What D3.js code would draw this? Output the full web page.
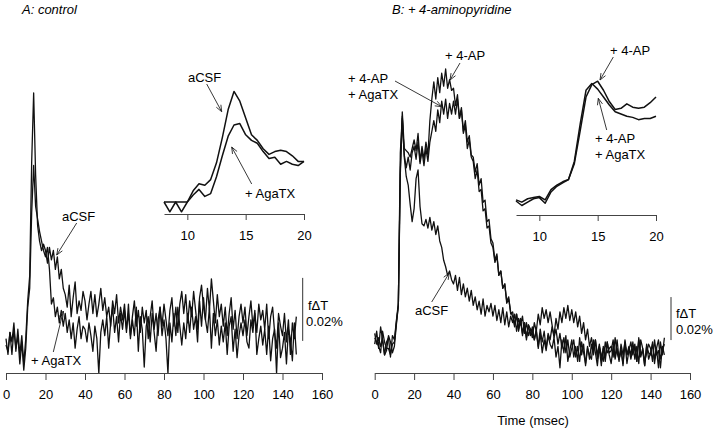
<!DOCTYPE html>
<html><head><meta charset="utf-8">
<script src="https://cdn.jsdelivr.net/npm/d3@7"></script>
<style>
body{margin:0;background:#fff}
svg text{font-family:"Liberation Sans",Arial,sans-serif;fill:#000}
</style>
</head><body>
<svg id="c" width="720" height="432"></svg>
<script>
// ---------- data ----------
const mainDt = 1;               // main traces: one sample per msec from 0 ms
const insetDt = 0.5;            // insets: one sample per 0.5 msec
const xTicks = [0,20,40,60,80,100,120,140,160];
const insetTicks = [10,15,20];
const insetStart = 8;           // inset traces start at 8 msec
const scaleBarValue = 20;       // 0.02 % in units of 0.001 %

// Panel A (fΔT in units of 0.001 %)
const A_aCSF = [
2,-3,4,1,7,-2,5,-3,3,-6,
2,14,22,58,80,54,38,33,30,32,
30,26,31,27,30,24,28,21,24,18,
16,12,19,9,15,20,10,14,11,17,
14,8,13,17,10,16,9,13,18,11,
15,9,12,6,14,10,16,7,12,8,
13,5,10,3,9,14,6,11,4,12,
7,11,2,9,14,5,10,3,12,6,
13,8,3,11,15,6,12,4,13,17,
10,16,7,14,9,17,11,5,15,19,
12,8,18,11,21,14,7,16,9,13,
6,12,3,10,15,5,11,2,9,13,
7,12,3,9,14,6,10,4,13,8,
11,5,13,2,9,12,4,-1,10,6,
3,10,1,8,-3,7,2,9];
const A_AgaTX = [
0,-2,4,-3,5,-1,3,-6,1,-8,
-1,12,18,42,57,44,40,36,33,30,
28,31,24,13,15,9,12,7,11,6,
10,4,8,2,7,-1,5,9,2,6,
5,1,7,3,-2,6,2,-9,4,8,
3,9,-1,7,12,4,9,1,10,5,
11,4,13,2,8,3,12,-2,9,5,
-7,6,9,1,10,4,-2,8,12,3,
8,2,-9,7,1,10,3,12,6,0,
7,2,10,4,12,5,9,1,14,6,
15,8,4,12,-1,10,3,8,0,6,
1,7,-3,6,9,-2,5,-4,3,7,
3,8,1,-1,8,4,11,-3,2,6,
0,5,-3,6,-5,2,5,-9,7,-4,
-1,4,-6,5,2,-5,7,-3];

// Panel B
const B_aCSF = [
4,-1,2,-2,1,-6,-4,3,0,-5,
-2,8,17,88,105,86,77,73,64,56,
62,76,80,63,55,54,57,53,58,52,
56,50,54,47,44,38,35,31,33,29,
27,31,24,30,22,27,21,25,19,24,
17,21,15,19,13,20,12,17,14,18,
12,17,10,15,9,16,8,14,7,12,
9,13,5,11,8,12,4,9,3,6,
5,1,6,-3,4,-5,1,-4,3,-1,
-3,2,-7,-2,-12,1,-5,3,-9,-4,
1,-7,-2,-9,2,-6,-1,-11,-3,-6,
-8,1,-5,-11,-2,-6,-9,0,-5,-3,
-2,-7,2,-5,-8,-3,-11,1,-6,-2,
-6,0,-8,-2,-10,1,-3,-9,-5,-1,
-3,-9,1,-6,-4,-12,-2,-6];
const B_4AP = [
-1,5,-3,7,1,-6,0,2,-7,3,
1,10,18,80,107,90,89,88,86,90,
94,89,97,84,91,85,93,87,103,113,
121,113,123,116,125,119,127,118,122,117,
118,110,115,104,108,97,101,90,94,86,
84,76,80,70,71,61,62,53,54,46,
44,37,40,31,33,25,27,18,20,14,
12,7,13,5,10,3,9,1,8,6,
2,9,5,13,8,16,11,15,9,14,
8,2,6,-1,4,-3,2,-5,1,-7,
-3,1,-7,-2,-9,0,-5,-10,-2,-8,
-1,-6,1,-8,-3,-11,-2,-7,0,-5,
-4,1,-8,-3,-9,-1,-6,0,-10,-4,
0,-6,-2,-9,1,-7,-3,-11,-1,-8,
-5,-1,-8,-3,-12,0,-6,2];
const B_4AP_AgaTX = [
2,0,-2,-5,5,0,-3,-3,-6,-1,
0,9,17,78,104,87,81,86,80,88,
91,85,93,83,89,82,90,84,93,98,
103,98,108,102,112,106,113,104,111,106,
112,106,113,104,109,98,103,93,96,87,
86,79,83,73,76,65,66,56,57,48,
46,38,41,31,33,25,27,19,21,13,
14,8,13,6,11,4,9,2,8,3,
7,1,5,-2,6,0,5,-3,4,1,
7,3,11,6,14,9,16,11,17,10,
15,9,14,7,12,4,9,1,6,-2,
2,-4,1,-6,-1,-8,-3,-9,0,-6,
-10,-2,-7,1,-8,-4,-10,-1,-6,-3,
-8,-3,-1,-9,2,-6,-4,-11,-2,-5,
-6,0,-10,-3,1,-8,-4,-1];

// Insets: 8–20 msec
const inA_aCSF  = [0,0,0,0,0,8,13,12,16,28,46,66,79,72,60,48,44,38,34,36,37,36,33,29,29];
const inA_AgaTX = [0,-7,0,-7,0,5,9,4,6,18,33,47,55,56,48,44,42,36,31,32,27,29,27,26,29];
const inB_4AP   = [1,-1,2,3,4,1,10,14,17,19,33,62,92,103,106,98,88,81,82,86,83,82,83,87,92];
const inB_4AP_AgaTX = [0,-4,-1,2,3,-2,8,13,16,19,35,68,98,104,99,92,85,79,77,75,74,72,73,73,75];

// ---------- drawing ----------
const svg = d3.select("#c");
const ink = "#111";

function trace(g, data, x, y, t0, step, w){
  const line = d3.line().x((d,i)=>x(t0 + i*step)).y(d=>y(d));
  g.append("path").datum(data).attr("d", line)
    .attr("fill","none").attr("stroke",ink).attr("stroke-width",w).attr("stroke-linejoin","round");
}
function axis(g, x, yPos, ticks, size, pad){
  const ax = g.append("g").attr("transform",`translate(0,${yPos})`)
    .call(d3.axisBottom(x).tickValues(ticks).tickSize(size).tickSizeOuter(0).tickPadding(pad));
  ax.select(".domain").attr("stroke","#444").attr("stroke-width",1);
  ax.selectAll(".tick line").attr("stroke","#444");
  ax.selectAll("text").style("font-size","13px").attr("fill","#000")
    .style("font-family",'"Liberation Sans",Arial,sans-serif');
}
function label(lines, x, y, size){
  lines.forEach((s,i)=>svg.append("text").attr("x",x).attr("y",y+i*16)
    .style("font-size",(size||13)+"px").text(s));
}
function arrow(x1,y1,x2,y2){
  const a = Math.atan2(y2-y1,x2-x1), L = 7, s = 0.38;
  const p = d3.path();
  p.moveTo(x1,y1); p.lineTo(x2,y2);
  p.moveTo(x2 - L*Math.cos(a-s), y2 - L*Math.sin(a-s)); p.lineTo(x2,y2);
  p.lineTo(x2 - L*Math.cos(a+s), y2 - L*Math.sin(a+s));
  svg.append("path").attr("d",p.toString()).attr("fill","none").attr("stroke","#222").attr("stroke-width",0.9);
}
function scaleBar(x, y, v0){
  svg.append("line").attr("x1",x).attr("x2",x).attr("y1",y(v0)).attr("y2",y(v0+scaleBarValue))
    .attr("stroke","#333").attr("stroke-width",1);
}

// Panel A
const xA = d3.scaleLinear().domain([0,160]).range([6,322]);
const yA = d3.scaleLinear().domain([0,20]).range([345,282]);
const gA = svg.append("g");
trace(gA, A_aCSF, xA, yA, 0, mainDt, 1.3);
trace(gA, A_AgaTX, xA, yA, 0, mainDt, 1.3);
axis(gA, xA, 373, xTicks, 7, 10);
scaleBar(302.7, yA, 1.3);
label(["fΔT"], 308, 310); label(["0.02%"], 306, 326);

// Panel B
const xB = d3.scaleLinear().domain([0,160]).range([374.7,690]);
const yB = d3.scaleLinear().domain([0,20]).range([342,299]);
const gB = svg.append("g");
trace(gB, B_aCSF, xB, yB, 0, mainDt, 1.3);
trace(gB, B_4AP, xB, yB, 0, mainDt, 1.3);
trace(gB, B_4AP_AgaTX, xB, yB, 0, mainDt, 1.3);
axis(gB, xB, 373, xTicks, 7, 10);
scaleBar(671, yB, 0.9);
label(["fΔT"], 676, 318); label(["0.02%"], 676, 334);
svg.append("text").attr("x",533).attr("y",425).attr("text-anchor","middle")
  .style("font-size","13px").text("Time (msec)");

// Inset A
const xiA = d3.scaleLinear().domain([8,20]).range([164,304]);
const yiA = d3.scaleLinear().domain([0,50]).range([202,132]);
const giA = svg.append("g");
trace(giA, inA_aCSF, xiA, yiA, insetStart, insetDt, 1.5);
trace(giA, inA_AgaTX, xiA, yiA, insetStart, insetDt, 1.5);
axis(giA, xiA, 214, insetTicks, 6, 11);

// Inset B
const xiB = d3.scaleLinear().domain([8,20]).range([516,656]);
const yiB = d3.scaleLinear().domain([0,100]).range([201,88]);
const giB = svg.append("g");
trace(giB, inB_4AP, xiB, yiB, insetStart, insetDt, 1.5);
trace(giB, inB_4AP_AgaTX, xiB, yiB, insetStart, insetDt, 1.5);
axis(giB, xiB, 215, insetTicks, 6, 11);

// Titles
svg.append("text").attr("x",22).attr("y",14).style("font-size","13px").style("font-style","italic").text("A: control");
svg.append("text").attr("x",392).attr("y",14).style("font-size","13px").style("font-style","italic").text("B: + 4-aminopyridine");

// Annotations, panel A
label(["aCSF"], 62, 221); arrow(76.7,223,56.7,255);
label(["+ AgaTX"], 31, 365); arrow(53.3,352,63.3,311);
label(["aCSF"], 188, 82); arrow(206.7,84,221.7,111.7);
label(["+ AgaTX"], 245, 198); arrow(251.7,184,231.7,147);

// Annotations, panel B
label(["+ 4-AP"], 445, 60); arrow(460,63,450,80);
label(["+ 4-AP","+ AgaTX"], 348, 83); arrow(395,81,441.7,106.7);
label(["aCSF"], 415, 315); arrow(431.7,302,449.3,273);
label(["+ 4-AP"], 610, 55); arrow(613.3,57,600,80);
label(["+ 4-AP","+ AgaTX"], 595, 143); arrow(606.7,130,598.3,98.3);
</script>
</body></html>
